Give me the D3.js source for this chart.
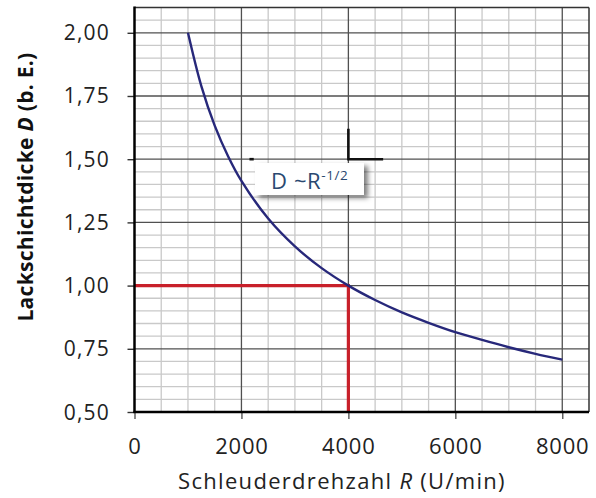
<!DOCTYPE html>
<html>
<head>
<meta charset="utf-8">
<script src="https://cdn.jsdelivr.net/npm/d3@7"></script>
<style>
  body { margin: 0; background: #fff; }
  text { font-family: "Open Sans", "Noto Sans", sans-serif; }
</style>
</head>
<body>
<div id="graf"></div>
<script>
// Daten
drehzahl = [1000, 1250, 1500, 1750, 2000, 2500, 3000, 3500, 4000, 4500, 5000, 5500, 6000, 6500, 7000, 7500, 8000]
dicke    = [2.000, 1.789, 1.633, 1.512, 1.414, 1.265, 1.155, 1.069, 1.000, 0.943, 0.894, 0.853, 0.816, 0.785, 0.756, 0.730, 0.707]

refR = [0, 4000, 4000]
refD = [1.00, 1.00, 0.50]

xTicks = [0, 2000, 4000, 6000, 8000]
yTicks = [0.50, 0.75, 1.00, 1.25, 1.50, 1.75, 2.00]

// Konfiguration
ancho_total = 596
alto_total = 498
margins = { top: 7.5, left: 134.5, right: 7, bottom: 86 }

svg = d3.select('#graf').append('svg')
  .attr('width', ancho_total)
  .attr('height', alto_total)

defs = svg.append('defs')
defs.append('filter').attr('id', 'schatten')
  .attr('x', '-20%').attr('y', '-30%').attr('width', '150%').attr('height', '180%')
  .append('feDropShadow')
  .attr('dx', 4).attr('dy', 3).attr('stdDeviation', 2.5)
  .attr('flood-color', '#000').attr('flood-opacity', 0.5)

x = d3.scaleLinear().domain([0, 8500]).range([margins.left, ancho_total - margins.right])
y = d3.scaleLinear().domain([0.5, 2.1]).range([alto_total - margins.bottom, margins.top])

// Gitter
minorX = d3.range(500, 8500, 500)
minorY = d3.range(0.55, 2.1, 0.05)

g = svg.append('g')

g.selectAll('.mx').data(minorX.filter(v => v % 2000 !== 0)).enter()
  .append('line')
  .attr('x1', d => x(d)).attr('x2', d => x(d))
  .attr('y1', y(0.5)).attr('y2', y(2.1))
  .attr('stroke', '#c9c9c9').attr('stroke-width', 1.3)

g.selectAll('.my').data(minorY.filter(v => Math.abs(v * 4 - Math.round(v * 4)) > 0.01)).enter()
  .append('line')
  .attr('x1', x(0)).attr('x2', x(8500))
  .attr('y1', d => y(d)).attr('y2', d => y(d))
  .attr('stroke', '#c9c9c9').attr('stroke-width', 1.3)

g.selectAll('.Mx').data(xTicks.slice(1)).enter()
  .append('line')
  .attr('x1', d => x(d)).attr('x2', d => x(d))
  .attr('y1', y(0.5)).attr('y2', y(2.1))
  .attr('stroke', '#505050').attr('stroke-width', 1.3)

g.selectAll('.My').data(yTicks.slice(1)).enter()
  .append('line')
  .attr('x1', x(0)).attr('x2', x(8500))
  .attr('y1', d => y(d)).attr('y2', d => y(d))
  .attr('stroke', '#505050').attr('stroke-width', 1.3)

// Rahmen oben/rechts
g.append('line').attr('x1', x(0)).attr('x2', x(8500)).attr('y1', y(2.1)).attr('y2', y(2.1))
  .attr('stroke', '#333').attr('stroke-width', 1.5)
g.append('line').attr('x1', x(8500)).attr('x2', x(8500)).attr('y1', y(2.1)).attr('y2', y(0.5))
  .attr('stroke', '#333').attr('stroke-width', 1.5)

// dicke Markierungen am Rahmen der Beschriftung
g.append('path')
  .attr('d', `M${x(4000)},${y(1.62)}V${y(1.5)}H${x(4650)}`)
  .attr('fill', 'none').attr('stroke', '#111').attr('stroke-width', 2.6)
g.append('line')
  .attr('x1', x(2150)).attr('x2', x(2230)).attr('y1', y(1.5)).attr('y2', y(1.5))
  .attr('stroke', '#111').attr('stroke-width', 2.6)

// Achsen
xAxis = d3.axisBottom(x).tickValues(xTicks).tickSize(7).tickFormat('')
yAxis = d3.axisLeft(y).tickValues(yTicks).tickSize(7).tickFormat('')

gx = svg.append('g').attr('transform', `translate(0,${y(0.5)})`).call(xAxis)
gy = svg.append('g').attr('transform', `translate(${x(0)},0)`).call(yAxis)
gx.select('.domain').remove()
gy.select('.domain').remove()
gx.selectAll('line').attr('stroke', '#555').attr('stroke-width', 1.4)
gy.selectAll('line').attr('stroke', '#333').attr('stroke-width', 1.4)

// Rote Bezugslinie
linea = d3.line().x((d, i) => x(refR[i])).y(d => y(d))
svg.append('path')
  .datum(refD)
  .attr('d', linea)
  .attr('fill', 'none').attr('stroke', '#c8202a').attr('stroke-width', 3.2)

// Achsenlinien
svg.append('line').attr('x1', x(0)).attr('x2', x(0)).attr('y1', y(2.1) - 1).attr('y2', y(0.5) + 1)
  .attr('stroke', '#000').attr('stroke-width', 2.5)
svg.append('line').attr('x1', x(0) - 1).attr('x2', x(8500)).attr('y1', y(0.5)).attr('y2', y(0.5))
  .attr('stroke', '#000').attr('stroke-width', 2.5)

// Kurve
kurve = d3.line().x((d, i) => x(drehzahl[i])).y(d => y(d)).curve(d3.curveCatmullRom)
svg.append('path')
  .datum(dicke)
  .attr('d', kurve)
  .attr('fill', 'none').attr('stroke', '#27287a').attr('stroke-width', 2.4)

// Beschriftungen der Achsen
svg.selectAll('.ylab').data(yTicks).enter()
  .append('text')
  .attr('x', 110).attr('y', d => y(d) + 7.5)
  .attr('text-anchor', 'end')
  .attr('font-size', 21).attr('letter-spacing', 1.2).attr('fill', '#222')
  .text(d => d3.format('.2f')(d).replace('.', ','))

svg.selectAll('.xlab').data(xTicks).enter()
  .append('text')
  .attr('x', d => x(d) + 0.5).attr('y', 454)
  .attr('text-anchor', 'middle')
  .attr('font-size', 22).attr('letter-spacing', 0.8).attr('fill', '#222')
  .text(d => d)

xt = svg.append('text')
  .attr('x', 342).attr('y', 489)
  .attr('text-anchor', 'middle')
  .attr('font-size', 22).attr('letter-spacing', 1.3).attr('fill', '#222')
xt.append('tspan').text('Schleuderdrehzahl ')
xt.append('tspan').attr('font-style', 'italic').text('R')
xt.append('tspan').text(' (U/min)')

yt = svg.append('text')
  .attr('transform', 'translate(33,187) rotate(-90)')
  .attr('text-anchor', 'middle')
  .attr('font-size', 21).attr('letter-spacing', 0.3).attr('font-weight', 'bold').attr('fill', '#111')
yt.append('tspan').text('Lackschichtdicke ')
yt.append('tspan').attr('font-style', 'italic').text('D')
yt.append('tspan').text('  (b. E.)')

// Formelkasten
box = svg.append('g')
box.append('rect')
  .attr('x', 255).attr('y', 163).attr('width', 109).attr('height', 32)
  .attr('fill', '#fff').attr('filter', 'url(#schatten)')
ft = box.append('text')
  .attr('x', 271).attr('y', 188.5)
  .attr('font-size', 22).attr('letter-spacing', 0.6).attr('fill', '#2a4870')
ft.append('tspan').text('D ~R')
ft.append('tspan').attr('font-size', 13.5).attr('dy', -9).text('-1/2')
</script>
</body>
</html>
